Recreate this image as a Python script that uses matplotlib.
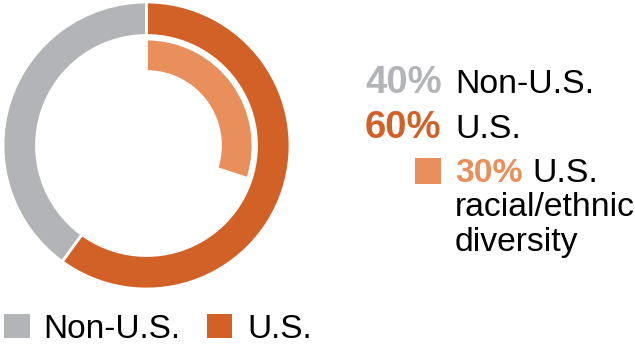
import matplotlib.pyplot as plt
from matplotlib.patches import Rectangle

# data
groups = ['Non-U.S.', 'U.S.']
shares = [40, 60]
diversity_share = 30
diversity_label = ['U.S.', 'racial/ethnic', 'diversity']

gray = '#B2B4B7'
orange = '#D26128'
light = '#E88F5C'

W, H = 635, 351
fig = plt.figure(figsize=(W / 100, H / 100), dpi=100)

# donut axes, 1 data unit = 1 pixel
cx, cy = 146.5, 145.5
half = 150
ax = fig.add_axes([(cx - half) / W, (H - cy - half) / H, 2 * half / W, 2 * half / H])

# outer ring: U.S. clockwise from the top, then Non-U.S.
outer, _ = ax.pie([shares[1], shares[0]], colors=[orange, gray], radius=143.5,
                  startangle=90, counterclock=False,
                  wedgeprops=dict(width=33.5, edgecolor='white', linewidth=2))

# inner ring: only the diversity share is shown
inner, _ = ax.pie([diversity_share, 100 - diversity_share], colors=[light, 'none'],
                  radius=106.5, startangle=90, counterclock=False,
                  wedgeprops=dict(width=32.5, edgecolor='white', linewidth=2))
inner[1].set_edgecolor('none')

# pie resets the limits, so set them after
ax.set_xlim(-half, half)
ax.set_ylim(-half, half)
ax.set_aspect('equal')
ax.axis('off')

# overlay axes in pixel coords for text
tx = fig.add_axes([0, 0, 1, 1])
tx.set_xlim(0, W)
tx.set_ylim(H, 0)
tx.axis('off')

fs = 24.3
big = 27.5
font = 'Liberation Sans'

tx.text(365, 93, f'{shares[0]}%', color=gray, fontsize=big, fontweight='bold',
        family=font, va='baseline')
tx.text(455, 93, groups[0], color='black', fontsize=fs, family=font, va='baseline')
tx.text(365, 138, f'{shares[1]}%', color=orange, fontsize=big, fontweight='bold',
        family=font, va='baseline')
tx.text(455, 138, groups[1], color='black', fontsize=fs, family=font, va='baseline')

tx.add_patch(Rectangle((415, 158), 26, 26, color=light, lw=0))
tx.text(455, 182, f'{diversity_share}%', color=light, fontsize=fs, fontweight='bold',
        family=font, va='baseline')
tx.text(532, 182, diversity_label[0], color='black', fontsize=fs, family=font, va='baseline')
tx.text(455, 216.5, diversity_label[1], color='black', fontsize=fs, family=font, va='baseline')
tx.text(455, 251, diversity_label[2], color='black', fontsize=fs, family=font, va='baseline')

# bottom legend
tx.add_patch(Rectangle((4, 314), 26, 24, color=gray, lw=0))
tx.text(43, 338, groups[0], color='black', fontsize=24, family=font, va='baseline')
tx.add_patch(Rectangle((207, 314), 25, 24, color=orange, lw=0))
tx.text(247, 338, groups[1], color='black', fontsize=24, family=font, va='baseline')

fig.savefig('out.png', dpi=100)
